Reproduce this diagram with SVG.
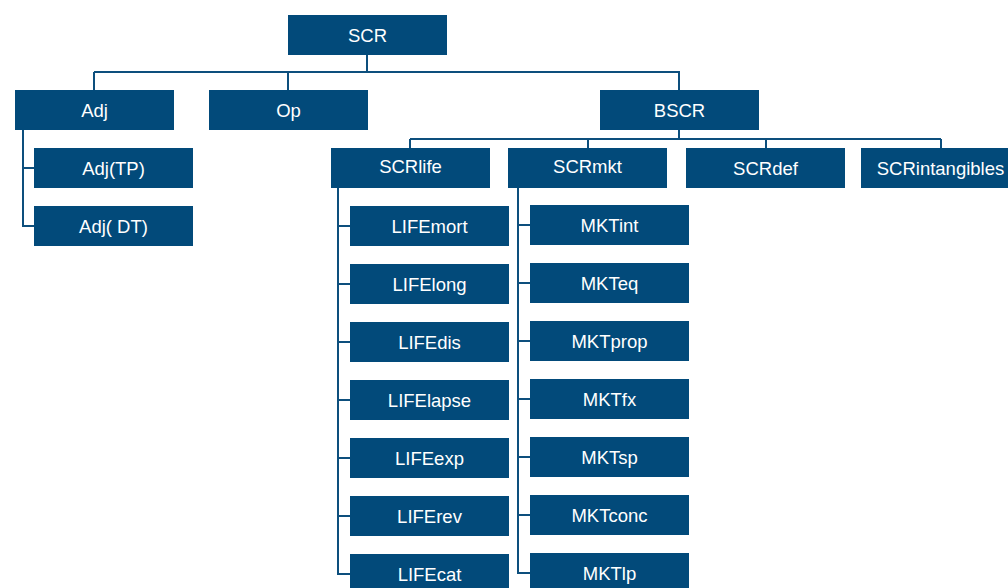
<svg xmlns="http://www.w3.org/2000/svg" width="1008" height="588" viewBox="0 0 1008 588">
<style>
.n rect{fill:#024a7a}
.n text{fill:#fff;font-family:"Liberation Sans",Arial,sans-serif;font-size:18.5px;text-anchor:middle}
.c path{fill:none;stroke:#0d4f7d;stroke-width:2}
</style>
<rect width="1008" height="588" fill="#fff"/>
<g class="c">
<path d="M367,55V72M94,72H680M94,72V90M288,72V90M679,72V90"/>
<path d="M23,130V226H34M23,168H34"/>
<path d="M679,130V139M410,139H941M410,139V148M588,139V148M766,139V148M941,139V148"/>
<path d="M338,188V574H350M338,226H350M338,284H350M338,342H350M338,400H350M338,458H350M338,516H350"/>
<path d="M518,188V573H530M518,225H530M518,283H530M518,341H530M518,399H530M518,457H530M518,515H530"/>
</g>
<g id="SCR" class="n"><rect x="288" y="15" width="159" height="40"/><text x="367.5" y="42">SCR</text></g>
<g id="Adj" class="n"><rect x="15" y="90" width="159" height="40"/><text x="94.5" y="117">Adj</text></g>
<g id="Op" class="n"><rect x="209" y="90" width="159" height="40"/><text x="288.5" y="117">Op</text></g>
<g id="BSCR" class="n"><rect x="600" y="90" width="159" height="40"/><text x="679.5" y="117">BSCR</text></g>
<g id="AdjTP" class="n"><rect x="34" y="148" width="159" height="40"/><text x="113.5" y="175">Adj(TP)</text></g>
<g id="AdjDT" class="n"><rect x="34" y="206" width="159" height="40"/><text x="113.5" y="233">Adj( DT)</text></g>
<g id="SCRlife" class="n"><rect x="331" y="148" width="159" height="40"/><text x="410.5" y="173">SCRlife</text></g>
<g id="SCRmkt" class="n"><rect x="508" y="148" width="159" height="40"/><text x="587.5" y="173">SCRmkt</text></g>
<g id="SCRdef" class="n"><rect x="686" y="148" width="159" height="40"/><text x="765.5" y="175">SCRdef</text></g>
<g id="SCRintangibles" class="n"><rect x="861" y="148" width="159" height="40"/><text x="940.5" y="175">SCRintangibles</text></g>
<g id="LIFEmort" class="n"><rect x="350" y="206" width="159" height="40"/><text x="429.5" y="233">LIFEmort</text></g>
<g id="LIFElong" class="n"><rect x="350" y="264" width="159" height="40"/><text x="429.5" y="291">LIFElong</text></g>
<g id="LIFEdis" class="n"><rect x="350" y="322" width="159" height="40"/><text x="429.5" y="349">LIFEdis</text></g>
<g id="LIFElapse" class="n"><rect x="350" y="380" width="159" height="40"/><text x="429.5" y="407">LIFElapse</text></g>
<g id="LIFEexp" class="n"><rect x="350" y="438" width="159" height="40"/><text x="429.5" y="465">LIFEexp</text></g>
<g id="LIFErev" class="n"><rect x="350" y="496" width="159" height="40"/><text x="429.5" y="523">LIFErev</text></g>
<g id="LIFEcat" class="n"><rect x="350" y="554" width="159" height="40"/><text x="429.5" y="581">LIFEcat</text></g>
<g id="MKTint" class="n"><rect x="530" y="205" width="159" height="40"/><text x="609.5" y="232">MKTint</text></g>
<g id="MKTeq" class="n"><rect x="530" y="263" width="159" height="40"/><text x="609.5" y="290">MKTeq</text></g>
<g id="MKTprop" class="n"><rect x="530" y="321" width="159" height="40"/><text x="609.5" y="348">MKTprop</text></g>
<g id="MKTfx" class="n"><rect x="530" y="379" width="159" height="40"/><text x="609.5" y="406">MKTfx</text></g>
<g id="MKTsp" class="n"><rect x="530" y="437" width="159" height="40"/><text x="609.5" y="464">MKTsp</text></g>
<g id="MKTconc" class="n"><rect x="530" y="495" width="159" height="40"/><text x="609.5" y="522">MKTconc</text></g>
<g id="MKTlp" class="n"><rect x="530" y="553" width="159" height="40"/><text x="609.5" y="580">MKTlp</text></g>
</svg>
